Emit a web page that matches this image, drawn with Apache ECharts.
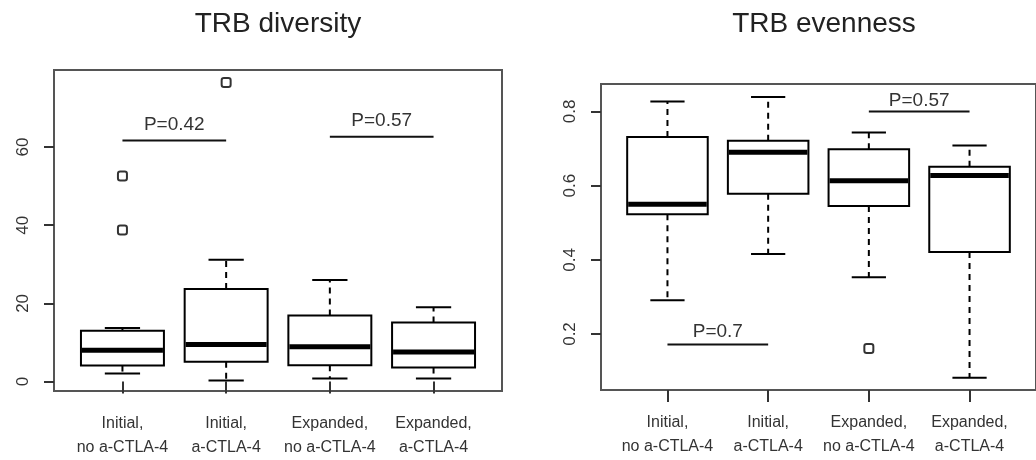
<!DOCTYPE html>
<html><head><meta charset="utf-8">
<script src="https://cdn.jsdelivr.net/npm/echarts@6/dist/echarts.min.js"></script>
<style>html,body{margin:0;padding:0;background:#fff}#c{width:1036px;height:460px}</style>
</head><body><div id="c"></div>
<script>
// ---- categories ----
const categories = ['Initial,\nno a-CTLA-4', 'Initial,\na-CTLA-4', 'Expanded,\nno a-CTLA-4', 'Expanded,\na-CTLA-4'];
const positions = [1, 2, 3, 4];

// ---- TRB diversity (left panel) ----
const divLow    = [2.1, 0.3, 0.8, 0.8];
const divQ1     = [4.1, 5.1, 4.2, 3.6];
const divMedian = [8.0, 9.5, 8.9, 7.6];
const divQ3     = [13.0, 23.7, 16.9, 15.1];
const divHigh   = [13.7, 31.2, 26.0, 19.0];
const divOutlierGroup = [1, 1, 2];
const divOutlierValue = [52.6, 38.8, 76.5];
const divTicks = [0, 20, 40, 60];
const divPLabels = ['P=0.42', 'P=0.57'];
const divPFrom = [1, 3];
const divPTo = [2, 4];
const divPLineY = [61.7, 62.6];
const divPTextY = [65.8, 66.6];

// ---- TRB evenness (right panel) ----
const evLow    = [0.291, 0.416, 0.353, 0.082];
const evQ1     = [0.523, 0.578, 0.545, 0.421];
const evMedian = [0.550, 0.690, 0.613, 0.627];
const evQ3     = [0.731, 0.721, 0.698, 0.651];
const evHigh   = [0.827, 0.839, 0.743, 0.708];
const evOutlierGroup = [3];
const evOutlierValue = [0.161];
const evTicks = [0.2, 0.4, 0.6, 0.8];
const evPLabels = ['P=0.7', 'P=0.57'];
const evPFrom = [1, 3];
const evPTo = [2, 4];
const evPLineY = [0.172, 0.800];
const evPTextY = [0.206, 0.830];

const titles = ['TRB diversity', 'TRB evenness'];

function boxData(low, q1, med, q3, high) {
  return positions.map((p, i) => [p, low[i], q1[i], med[i], q3[i], high[i]]);
}
function outlierData(g, v) { return g.map((x, i) => [x, v[i]]); }
function pData(from, to, ly, ty) { return from.map((f, i) => [f, to[i], ly[i], ty[i]]); }

const BOX_HALF = 0.4, CAP_HALF = 0.17;
function renderBox(params, api) {
  const x = api.value(0);
  const lowP = api.coord([x, api.value(1)]);
  const q1P = api.coord([x, api.value(2)]);
  const medP = api.coord([x, api.value(3)]);
  const q3P = api.coord([x, api.value(4)]);
  const highP = api.coord([x, api.value(5)]);
  const l = api.coord([x - BOX_HALF, 0])[0];
  const r = api.coord([x + BOX_HALF, 0])[0];
  const cl = api.coord([x - CAP_HALF, 0])[0];
  const cr = api.coord([x + CAP_HALF, 0])[0];
  const cx = q1P[0];
  const solid = { stroke: '#000', lineWidth: 2, fill: null };
  const dashed = { stroke: '#000', lineWidth: 2, lineDash: [6, 5], fill: null };
  return {
    type: 'group',
    children: [
      { type: 'line', shape: { x1: cx, y1: q3P[1], x2: cx, y2: highP[1] }, style: dashed },
      { type: 'line', shape: { x1: cx, y1: q1P[1], x2: cx, y2: lowP[1] }, style: dashed },
      { type: 'line', shape: { x1: cl, y1: highP[1], x2: cr, y2: highP[1] }, style: solid },
      { type: 'line', shape: { x1: cl, y1: lowP[1], x2: cr, y2: lowP[1] }, style: solid },
      { type: 'rect', shape: { x: l, y: q3P[1], width: r - l, height: q1P[1] - q3P[1] }, style: { stroke: '#000', lineWidth: 2, fill: '#fff' } },
      { type: 'line', shape: { x1: l + 1, y1: medP[1], x2: r - 1, y2: medP[1] }, style: { stroke: '#000', lineWidth: 5 } }
    ]
  };
}
function makePRender(labels) {
  return function (params, api) {
    const a = api.coord([api.value(0), api.value(2)]);
    const b = api.coord([api.value(1), api.value(2)]);
    const t = api.coord([(api.value(0) + api.value(1)) / 2, api.value(3)]);
    return {
      type: 'group',
      children: [
        { type: 'line', shape: { x1: a[0], y1: a[1], x2: b[0], y2: b[1] }, style: { stroke: '#111', lineWidth: 2 } },
        { type: 'text', x: t[0], y: t[1], style: { text: labels[params.dataIndex], fill: '#333', font: '19px "Liberation Sans", Arial, sans-serif', align: 'center', verticalAlign: 'middle' } }
      ]
    };
  };
}

const fontFam = '"Liberation Sans", Arial, sans-serif';

function xAxis(gi) {
  return {
    gridIndex: gi, type: 'value', min: 0.34, max: 4.66,
    axisLine: { show: false }, splitLine: { show: false },
    axisTick: { show: true, customValues: positions, length: 12, lineStyle: { color: '#333', width: 2 } },
    axisLabel: {
      customValues: positions, margin: 21, fontSize: 16, lineHeight: 24, color: '#333', fontFamily: fontFam,
      formatter: v => categories[Math.round(v) - 1]
    }
  };
}
function yAxis(gi, min, max, ticks) {
  return {
    gridIndex: gi, type: 'value', min: min, max: max,
    axisLine: { show: false }, splitLine: { show: false },
    axisTick: { show: true, customValues: ticks, length: 10, lineStyle: { color: '#333', width: 2 } },
    axisLabel: { customValues: ticks, rotate: 90, margin: 22, fontSize: 17, color: '#333', fontFamily: fontFam }
  };
}

const chart = echarts.init(document.getElementById('c'), null, { renderer: 'canvas' });
chart.setOption({
  animation: false,
  backgroundColor: '#fff',
  title: [
    { text: titles[0], left: 278, top: 10, textAlign: 'center', padding: 0, textStyle: { fontSize: 28, fontWeight: 'normal', color: '#222', fontFamily: fontFam } },
    { text: titles[1], left: 824, top: 10, textAlign: 'center', padding: 0, textStyle: { fontSize: 28, fontWeight: 'normal', color: '#222', fontFamily: fontFam } }
  ],
  grid: [
    { left: 54, top: 70, width: 448, height: 322, show: true, borderColor: '#555', borderWidth: 2, backgroundColor: 'transparent' },
    { left: 601, top: 84, width: 447, height: 306, show: true, borderColor: '#555', borderWidth: 2, backgroundColor: 'transparent' }
  ],
  xAxis: [xAxis(0), xAxis(1)],
  yAxis: [yAxis(0, -2.4, 79.7, divTicks), yAxis(1, 0.049, 0.874, evTicks)],
  series: [
    { type: 'custom', xAxisIndex: 0, yAxisIndex: 0, renderItem: renderBox, data: boxData(divLow, divQ1, divMedian, divQ3, divHigh), encode: { x: 0, y: [1, 2, 3, 4, 5] }, z: 2 },
    { type: 'custom', xAxisIndex: 1, yAxisIndex: 1, renderItem: renderBox, data: boxData(evLow, evQ1, evMedian, evQ3, evHigh), encode: { x: 0, y: [1, 2, 3, 4, 5] }, z: 2 },
    { type: 'scatter', xAxisIndex: 0, yAxisIndex: 0, data: outlierData(divOutlierGroup, divOutlierValue), symbol: 'emptyRoundRect', symbolSize: 9, itemStyle: { color: '#000', borderWidth: 2 }, z: 3 },
    { type: 'scatter', xAxisIndex: 1, yAxisIndex: 1, data: outlierData(evOutlierGroup, evOutlierValue), symbol: 'emptyRoundRect', symbolSize: 9, itemStyle: { color: '#000', borderWidth: 2 }, z: 3 },
    { type: 'custom', xAxisIndex: 0, yAxisIndex: 0, renderItem: makePRender(divPLabels), data: pData(divPFrom, divPTo, divPLineY, divPTextY), encode: { x: [0, 1], y: [2, 3] }, z: 3 },
    { type: 'custom', xAxisIndex: 1, yAxisIndex: 1, renderItem: makePRender(evPLabels), data: pData(evPFrom, evPTo, evPLineY, evPTextY), encode: { x: [0, 1], y: [2, 3] }, z: 3 }
  ]
});
</script>
</body></html>
